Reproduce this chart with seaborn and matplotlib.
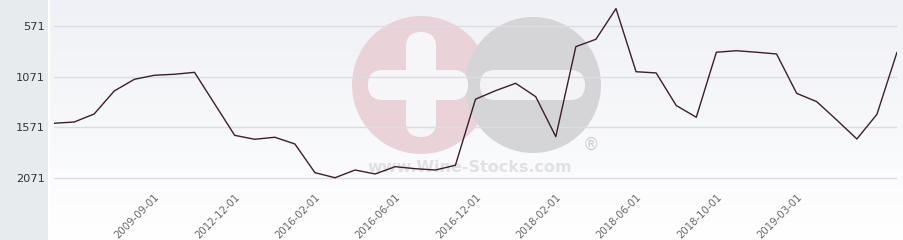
import numpy as np
import pandas as pd
import matplotlib
matplotlib.use("Agg")
import matplotlib.pyplot as plt
import matplotlib.transforms as mtransforms
import seaborn as sns
from matplotlib.patches import Circle, FancyBboxPatch

# ---- data ----
ranks = [1530, 1518, 1439, 1212, 1097, 1057, 1047, 1028, 1338, 1649,
         1688, 1668, 1734, 2017, 2067, 1991, 2030, 1958, 1978, 1991,
         1944, 1293, 1209, 1136, 1268, 1662, 775, 702, 400, 1022,
         1034, 1355, 1471, 830, 815, 830, 847, 1235, 1317, 1498,
         1685, 1442, 830]
tick_positions = [5, 9, 13, 17, 21, 25, 29, 33, 37]
tick_labels = ["2009-09-01", "2012-12-01", "2016-02-01", "2016-06-01",
               "2016-12-01", "2018-02-01", "2018-06-01", "2018-10-01",
               "2019-03-01"]
y_ticks = [571, 1071, 1571, 2071]

df = pd.DataFrame({"idx": np.arange(len(ranks)), "rank": ranks})

sns.set_theme(style="white")
plt.rcParams["font.family"] = ["DejaVu Sans"]

W, H = 904, 240
fig = plt.figure(figsize=(W / 100, H / 100), dpi=100)
fig.patch.set_facecolor("white")

# left grey panel
fig.add_artist(plt.Rectangle((0, 0), 48 / W, 1, transform=fig.transFigure,
                             facecolor="#e8ebee", edgecolor="none", zorder=0))

# gradient background for the chart region
bg = fig.add_axes([50 / W, 0, 1 - 50 / W, 1], zorder=0)
grad = np.linspace(0, 1, 256).reshape(-1, 1)
top = np.array([240, 241, 246]) / 255
bot = np.array([255, 255, 255]) / 255
img = top[None, None, :] * (1 - grad[:, :, None]) + bot[None, None, :] * grad[:, :, None]
bg.imshow(img, aspect="auto", extent=[0, 1, 0, 1], origin="upper")
bg.set_ylim(0, 1)
bg.axis("off")

# watermark layer
wm = fig.add_axes([0, 0, 1, 1], zorder=1)
wm.set_xlim(0, W)
wm.set_ylim(H, 0)
wm.axis("off")
wm.add_patch(Circle((421, 85), 69, facecolor="#e9d3d9", edgecolor="none"))
wm.add_patch(Circle((533, 85), 68, facecolor="#d5d5d8", edgecolor="none"))
wm.add_patch(FancyBboxPatch((368 + 15, 70 + 15), 100 - 30, 0.01,
                            boxstyle="round,pad=15", facecolor="#f6f6f9", edgecolor="none"))
wm.add_patch(FancyBboxPatch((406 + 15, 32 + 15), 0.01, 105 - 30,
                            boxstyle="round,pad=15", facecolor="#f6f6f9", edgecolor="none"))
wm.add_patch(FancyBboxPatch((480 + 15, 70 + 15), 105 - 30, 0.01,
                            boxstyle="round,pad=15", facecolor="#f4f4f7", edgecolor="none"))
wm.text(470, 167, "www.Wine-Stocks.com", fontsize=11.5, fontweight="bold",
        color="#e0e0e5", ha="center", va="center")
wm.text(591, 145, "®", fontsize=12, color="#d0d0d4", ha="center", va="center")

# main axes
ax = fig.add_axes([54 / W, 1 - 190 / H, (897 - 54) / W, 190 / H], zorder=2)
ax.patch.set_alpha(0)
sns.lineplot(data=df, x="idx", y="rank", ax=ax, color="#3b1f2c", linewidth=1.0)
ax.set_xlim(0, len(ranks) - 1)
ax.set_ylim(2188, 315)
ax.set_yticks(y_ticks)
ax.set_yticklabels([str(v) for v in y_ticks], fontsize=8.2, color="#333333")
ax.yaxis.grid(True, color="#dcdce2", linewidth=1)
ax.xaxis.grid(False)
ax.set_xticks(tick_positions)
ax.set_xticklabels(tick_labels, fontsize=7.3, color="#666666", rotation=45,
                   ha="right", va="top", rotation_mode="anchor")
shift = mtransforms.ScaledTranslation(-4 / 100, 0, fig.dpi_scale_trans)
for lbl in ax.get_xticklabels():
    lbl.set_transform(lbl.get_transform() + shift)
ax.tick_params(axis="x", length=0, pad=1.5)
ax.tick_params(axis="y", length=0, pad=6.5)
ax.set_xlabel("")
ax.set_ylabel("")
for s in ax.spines.values():
    s.set_visible(False)

fig.savefig("out.png", dpi=100)
